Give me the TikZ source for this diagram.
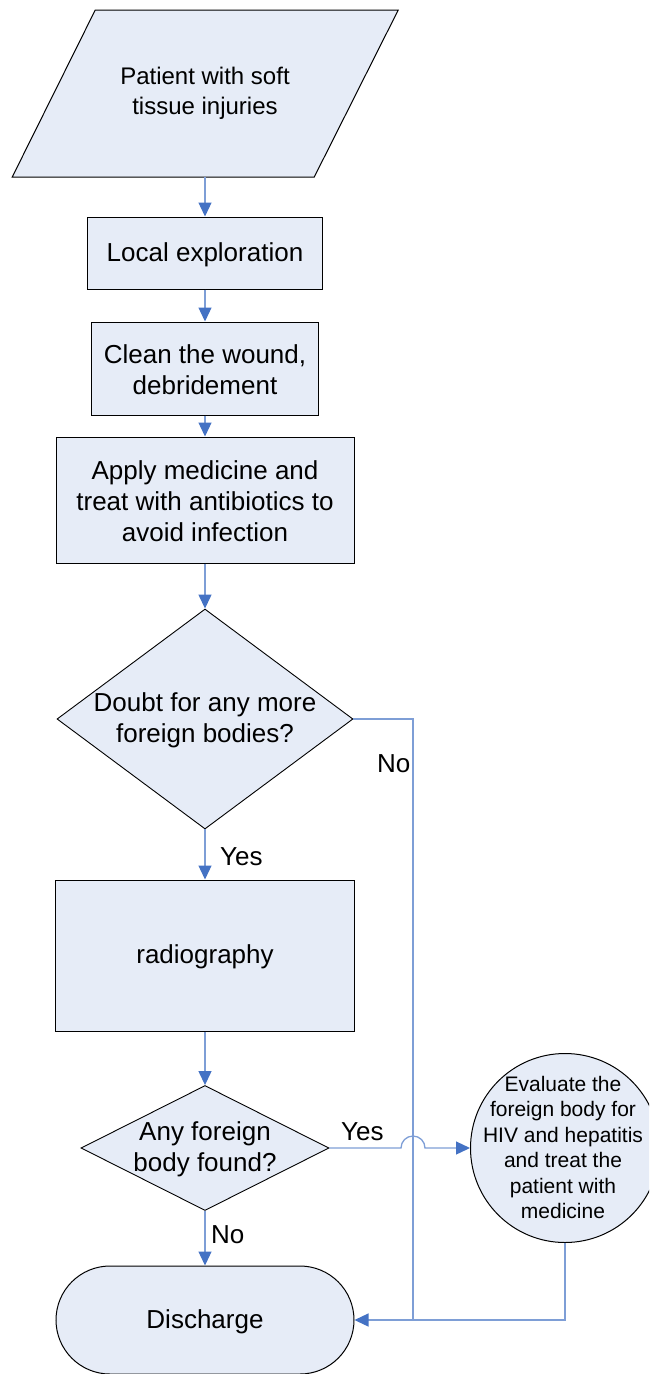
\documentclass[tikz,border=0pt]{standalone}
\usepackage{fontspec}
\setmainfont{Liberation Sans}
\usetikzlibrary{shapes.geometric,shapes.misc,arrows.meta,calc,backgrounds}
\definecolor{boxfill}{RGB}{230,236,247}
\definecolor{linkline}{RGB}{126,158,214}
\definecolor{linktip}{RGB}{68,114,196}
\begin{document}
\begin{tikzpicture}[x=1pt,y=-1pt,
  every node/.style={font=\fontsize{26}{31}\selectfont, align=center},
  stepbox/.style={draw=black, line width=1pt, fill=boxfill, inner sep=0pt},
  decision/.style={diamond, draw=black, line width=0.9pt, fill=boxfill, inner sep=0pt},
  link/.style={draw=linkline, line width=1.3pt, -{Triangle[length=14pt,width=13pt,color=linktip]}},
  plainlink/.style={draw=linkline, line width=1.3pt},
  tag/.style={inner sep=0pt}]
\useasboundingbox (0,0) rectangle (649,1374);
\clip (0,0) rectangle (649,1374);

% input: parallelogram around the start node
\node[tag, minimum height=167pt, font=\fontsize{24}{30}\selectfont] (start) at (205,93.5)
  {\raisebox{-2pt}{\begin{tabular}{@{}c@{}}Patient with soft\\tissue injuries\end{tabular}}};
\begin{scope}[on background layer]
  \filldraw[fill=boxfill, draw=black, line width=1pt]
    ($(start.center)+(-109.75,-83.5)$) -- ($(start.center)+(193.25,-83.5)$)
    -- ($(start.center)+(109.25,83.5)$) -- ($(start.center)+(-192.75,83.5)$) -- cycle;
\end{scope}

% process steps
\node[stepbox, minimum width=235pt, minimum height=72pt, text depth=0pt, text height=0pt] (loc) at (205,253) {};
\node[tag] (loctext) at ([yshift=-1.5pt]loc.center) {Local exploration};
\node[stepbox, minimum width=227pt, minimum height=93pt] (clean) at (205,368.5) {};
\node[tag] (cleantext) at ([yshift=-1.5pt]clean.center) {Clean the wound,\\debridement};
\node[stepbox, minimum width=298pt, minimum height=126pt] (apply) at (205,500) {};
\node[tag] (applytext) at ([yshift=-1.5pt]apply.center) {Apply medicine and\\treat with antibiotics to\\avoid infection};

% first decision
\node[decision, minimum width=296pt, minimum height=220pt] (d1) at (205,719) {};
\node[tag] (d1text) at ([yshift=-1.5pt]d1.center) {Doubt for any more\\foreign bodies?};

\node[stepbox, minimum width=299pt, minimum height=151pt] (radio) at (205,955.5) {};
\node[tag] (radiotext) at ([yshift=-1.5pt]radio.center) {radiography};

% second decision
\node[decision, minimum width=248pt, minimum height=125pt] (d2) at (205,1148) {};
\node[tag] (d2text) at ([yshift=-1.5pt]d2.center) {Any foreign\\body found?};

% evaluation circle
\node[circle, stepbox, minimum size=189pt] (eval) at (565,1148) {};
\node[tag, font=\fontsize{21}{25.4}\selectfont] (evaltext) at (563,1147.5)
  {Evaluate the\\foreign body for\\HIV and hepatitis\\and treat the\\patient with\\medicine};

% terminal
\node[rounded rectangle, stepbox, minimum width=298pt, minimum height=108pt] (dis) at (205,1320) {};
\node[tag] (distext) at ([yshift=-1.5pt]dis.center) {Discharge};

% main flow
\draw[link] (start.south) -- (loc.north);
\draw[link] (loc.south) -- (clean.north);
\draw[link] (clean.south) -- (apply.north);
\draw[link] (apply.south) -- (d1.north);
\draw[link] (d1.south) -- (radio.north);
\draw[link] (radio.south) -- (d2.north);
\draw[link] (d2.south) -- (dis.north);

% "No" branch of the first decision
\coordinate (nojoin) at (413,1320);
\draw[plainlink] (d1.east) -| (nojoin);

% "Yes" branch of the second decision, hopping over the "No" line
\coordinate (hop) at (413,1148);
\draw[link] (d2.east) -- ([xshift=-12pt]hop) arc[start angle=180, end angle=0, radius=12pt] -- (eval.west);

% return from evaluation
\draw[link] (eval.south) |- (dis.east);

% branch labels
\node[tag, anchor=base west] (yes1) at (220,865) {Yes};
\node[tag, anchor=base west] (no1) at (377,772) {No};
\node[tag, anchor=base west] (yes2) at (341,1140) {Yes};
\node[tag, anchor=base west] (no2) at (211,1243) {No};
\end{tikzpicture}
\end{document}
